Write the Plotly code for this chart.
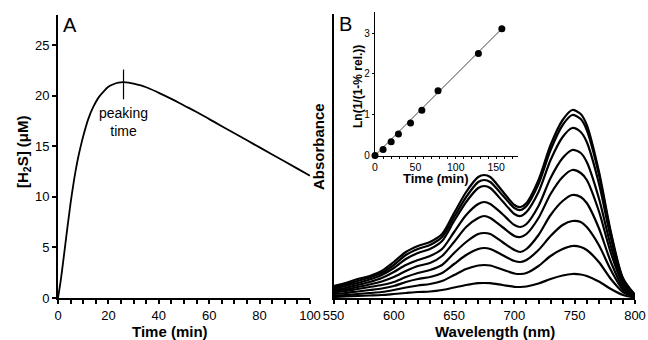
import plotly.graph_objects as go

# ---------------- Panel A data ----------------
time_a = [0, 1, 2, 3, 4, 5, 6, 7, 8, 9, 10, 12, 14, 16, 18, 20, 22, 24, 26, 28, 30,
          35, 40, 45, 50, 55, 60, 65, 70, 75, 80, 85, 90, 95, 100]
h2s = [0, 1.6, 3.5, 5.5, 7.5, 9.4, 11.1, 12.6, 13.9, 15.0, 16.0, 17.7, 18.9, 19.8, 20.4,
       20.9, 21.15, 21.3, 21.35, 21.3, 21.2, 20.85, 20.3, 19.7, 19.05, 18.4, 17.7, 17.0,
       16.3, 15.6, 14.9, 14.2, 13.5, 12.8, 12.1]
peak_time = [26, 26]
peak_bar = [19.65, 22.6]

# ---------------- Panel B data (absorbance, arbitrary units) ----------------
wl = [550, 560, 570, 580, 590, 600, 610, 620, 630, 640, 650, 660, 670, 675, 680, 690,
      700, 705, 710, 720, 730, 740, 748, 755, 760, 770, 780, 790, 800]
spec_1 = [12, 15, 19, 22, 27, 36, 46, 52, 56, 64, 85, 106, 121, 123, 121, 107,
          93, 91, 95, 118, 153, 178, 188, 184, 173, 127, 66, 20, 3]
spec_2 = [10.5, 13.5, 17, 20.5, 25, 33, 43, 49, 53, 61, 81, 101, 116, 118, 116, 103,
          90, 88, 92, 114, 148, 173, 183, 179, 168, 124, 64, 19, 3]
spec_3 = [9.5, 12, 15, 18.5, 23, 30, 39, 45, 49, 57, 77, 96, 110, 112, 110, 97,
          84, 82, 86, 106, 138, 161, 170, 166, 156, 115, 60, 18, 3]
spec_4 = [8, 10, 13, 16, 20, 26, 33, 38, 42, 49, 66, 83, 94, 96, 94, 84,
          73, 71, 74, 92, 120, 140, 148, 145, 136, 100, 52, 16, 2.5]
spec_5 = [7, 8.5, 11, 13.5, 16.5, 21, 27, 32, 35, 42, 56, 71, 80, 82, 80, 71,
          62, 61, 64, 80, 104, 121, 128, 125, 118, 87, 45, 14, 2]
spec_6 = [5.5, 7, 9, 11, 13, 16, 21, 25, 28, 33, 45, 56, 64, 65, 64, 56,
          48, 46, 49, 63, 83, 97, 103, 101, 95, 70, 36, 11, 2]
spec_7 = [4, 5, 6.5, 8, 9.5, 12, 16, 19, 21, 25, 34, 43, 49, 50, 49, 43,
          37, 36, 38, 48, 62, 73, 77, 76, 71, 53, 28, 8.5, 1.5]
spec_8 = [2.5, 3, 4, 5, 6, 8, 10.5, 12.5, 14, 17, 23, 29, 32.5, 33, 32.5, 28.5,
          24.5, 24, 25, 32, 42, 49, 52, 51, 48, 36, 19, 6, 1]
spec_9 = [1, 1.5, 2, 2.5, 3, 4, 5, 6, 6.5, 8, 10.5, 13, 14.8, 15, 14.8, 13,
          11.2, 11, 11.5, 14.5, 19, 22.5, 24, 23.5, 22, 16.5, 9, 3, 0.5]
spectra = [spec_1, spec_2, spec_3, spec_4, spec_5, spec_6, spec_7, spec_8, spec_9]

# ---------------- Inset data ----------------
inset_time = [0, 10, 20, 29, 44, 58, 78, 128, 157]
inset_ln = [0, 0.15, 0.34, 0.53, 0.80, 1.11, 1.59, 2.50, 3.11]
fit_time = [0, 157]
fit_ln = [0, 3.11]

FONT = "Arial, Liberation Sans, sans-serif"
W, H = 648, 340

fig = go.Figure()

fig.add_trace(go.Scatter(x=time_a, y=h2s, mode="lines", line=dict(color="black", width=1.8, shape="spline"),
                         xaxis="x", yaxis="y", showlegend=False))
fig.add_trace(go.Scatter(x=peak_time, y=peak_bar, mode="lines", line=dict(color="black", width=1.2),
                         xaxis="x", yaxis="y", showlegend=False))

for s in spectra:
    fig.add_trace(go.Scatter(x=wl, y=s, mode="lines",
                             line=dict(color="black", width=2.2, shape="spline", smoothing=0.8),
                             xaxis="x2", yaxis="y2", showlegend=False))

fig.add_trace(go.Scatter(x=fit_time, y=fit_ln, mode="lines", line=dict(color="#444", width=1),
                         xaxis="x3", yaxis="y3", showlegend=False))
fig.add_trace(go.Scatter(x=inset_time, y=inset_ln, mode="markers",
                         marker=dict(color="black", size=7),
                         xaxis="x3", yaxis="y3", showlegend=False, cliponaxis=False))


def px_x(p):
    return p / W


def px_y(p):
    return 1 - p / H


axis_common = dict(showline=True, linecolor="black", showgrid=False, zeroline=False, automargin=False,
                   ticks="outside", tickcolor="black", tickfont=dict(family=FONT, size=13, color="black"))

fig.update_layout(
    template="none",
    width=W, height=H, margin=dict(l=0, r=0, t=0, b=0, pad=0), autosize=False,
    paper_bgcolor="white", plot_bgcolor="rgba(0,0,0,0)",
    font=dict(family=FONT, color="black"),
    showlegend=False,
    xaxis=dict(domain=[px_x(58), px_x(310)], range=[0, 100], anchor="y", dtick=20, tick0=0,
               linewidth=2, ticklen=4, tickwidth=1.5,
               minor=dict(dtick=5, ticks="outside", ticklen=4, tickwidth=1.5, tickcolor="black"),
               **axis_common),
    yaxis=dict(domain=[px_y(298), px_y(15)], range=[0, 28], anchor="x", dtick=5, tick0=0,
               linewidth=2, ticklen=4, tickwidth=1.5, **axis_common),
    xaxis2=dict(domain=[px_x(333.5), px_x(635)], range=[550, 800], anchor="y2", dtick=50, tick0=550,
                linewidth=2, ticklen=4, tickwidth=1.5,
                minor=dict(dtick=10, ticks="outside", ticklen=4, tickwidth=1.5, tickcolor="black"),
                **axis_common),
    yaxis2=dict(domain=[px_y(298), px_y(14)], range=[0, 284], anchor="x2", showline=True,
                linecolor="black", linewidth=2, showgrid=False, zeroline=False, automargin=False,
                showticklabels=False, ticks=""),
    xaxis3=dict(domain=[px_x(375), px_x(518)], range=[0, 177], anchor="y3", dtick=50, tick0=0,
                showline=True, linecolor="black", linewidth=1.2, showgrid=False, zeroline=False,
                automargin=False,
                ticks="outside", ticklen=2, tickwidth=1, tickcolor="black",
                tickfont=dict(family=FONT, size=10.5, color="black"),
                minor=dict(dtick=10, ticks="outside", ticklen=2, tickwidth=1, tickcolor="black")),
    yaxis3=dict(domain=[px_y(155.5), px_y(12)], range=[0, 3.52], anchor="x3", dtick=1, tick0=0,
                showline=True, linecolor="black", linewidth=1.2, showgrid=False, zeroline=False,
                automargin=False,
                ticks="outside", ticklen=2, tickwidth=1, tickcolor="black",
                tickfont=dict(family=FONT, size=10, color="black")),
)

ann = [
    dict(text="<b>[H<sub>2</sub>S] (μM)</b>", x=px_x(23), y=px_y(152), textangle=-90, size=15),
    dict(text="<b>Time (min)</b>", x=px_x(170), y=px_y(331), textangle=0, size=15),
    dict(text="<b>Wavelength (nm)</b>", x=px_x(495), y=px_y(331), textangle=0, size=15),
    dict(text="<b>Absorbance</b>", x=px_x(318), y=px_y(147), textangle=-90, size=15),
    dict(text="<b>Time (min)</b>", x=px_x(436), y=px_y(178), textangle=0, size=13),
    dict(text="<b>Ln(1/(1-% rel.))</b>", x=px_x(358), y=px_y(87), textangle=-90, size=12),
    dict(text="A", x=px_x(69.5), y=px_y(25.5), textangle=0, size=20),
    dict(text="B", x=px_x(345.5), y=px_y(24), textangle=0, size=20),
    dict(text="peaking<br>time", x=px_x(123.5), y=px_y(122), textangle=0, size=14),
]
for a in ann:
    fig.add_annotation(text=a["text"], x=a["x"], y=a["y"], xref="paper", yref="paper",
                       xanchor="center", yanchor="middle", showarrow=False, textangle=a["textangle"],
                       font=dict(family=FONT, size=a["size"], color="black"))

fig.write_html("out.html", config={"displayModeBar": False},
               post_script="document.body.style.margin='0px';document.body.style.padding='0px';"
                           "document.body.style.overflow='hidden';")
